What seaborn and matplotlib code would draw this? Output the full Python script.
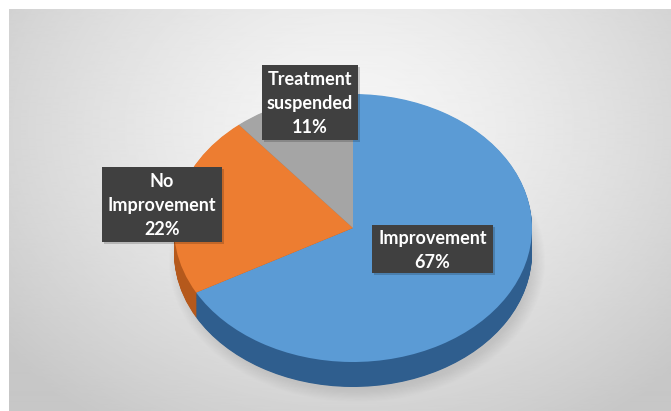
import numpy as np
import matplotlib
matplotlib.use("Agg")
import matplotlib.pyplot as plt
from matplotlib.patches import Rectangle, Ellipse
import seaborn as sns

# Outcome shares
categories = ["Improvement", "No\nImprovement", "Treatment\nsuspended"]
shares = [67, 22, 11]
top_colors = ["#5B9BD5", "#ED7D31", "#A5A5A5"]
side_colors = ["#2F5E8E", "#B5591C", "#7A7A7A"]

sns.set_theme(style="white")
plt.rcParams["font.family"] = ["Lato", "DejaVu Sans"]

W, H = 671, 411
fig = plt.figure(figsize=(W / 100, H / 100), dpi=100)
fig.patch.set_facecolor("white")

# Soft radial gradient backdrop
bg = fig.add_axes([9 / W, 0, (W - 9) / W, (H - 9) / H])
yy, xx = np.mgrid[0:402, 0:662]
r = np.hypot((xx - 340) / 420.0, (yy - 120) / 330.0)
shade = np.clip(0.965 - 0.17 * r ** 1.4, 0.78, 0.97)
bg.imshow(shade, cmap="gray", vmin=0, vmax=1, aspect="auto", interpolation="bicubic")
bg.set_axis_off()

# Pie geometry (pixels): ellipse centre, semi-axes, extrusion depth
cx, cy, a, b, depth = 353, 228, 179, 134, 25

# Shadow below the disc
ov = fig.add_axes([0, 0, 1, 1])
ov.set_xlim(0, W)
ov.set_ylim(H, 0)
ov.set_axis_off()
for k in range(14):
    ov.add_patch(Ellipse((cx + 4, cy + depth + 8), 2 * a + 18 - k * 2.2, 2 * b + 14 - k * 2.2,
                         fc="#9a9a9a", ec="none", alpha=0.025))

ax = fig.add_axes([(cx - a) / W, (H - (cy + b + depth)) / H, 2 * a / W, (2 * b + depth) / H])
ax.set_axis_off()

# Extruded side: stacked copies of the pie, darker shades
for off in np.linspace(depth / b, 0.005, 40):
    ax.pie(shares, colors=side_colors, startangle=90, counterclock=False,
           center=(0, -off), radius=1, wedgeprops=dict(linewidth=0))
ax.pie(shares, colors=top_colors, startangle=90, counterclock=False,
       center=(0, 0), radius=1, wedgeprops=dict(linewidth=0))
ax.set_aspect("auto")
ax.set_xlim(-1, 1)
ax.set_ylim(-1 - depth / b, 1)

# Dark value callouts (x0, y0, width, height in pixels)
boxes = [(372, 225, 121, 48), (102, 167, 120, 75), (262, 65, 96, 75)]
txt = fig.add_axes([0, 0, 1, 1])
txt.set_xlim(0, W)
txt.set_ylim(H, 0)
txt.set_axis_off()
for name, val, (x0, y0, w, h) in zip(categories, shares, boxes):
    txt.add_patch(Rectangle((x0 + 2, y0 + 2), w, h, fc="#000000", ec="none", alpha=0.18))
    txt.add_patch(Rectangle((x0, y0), w, h, fc="#404040", ec="none"))
    txt.text(x0 + w / 2, y0 + h / 2 + 1, f"{name}\n{val}%", color="white",
             fontsize=13, fontweight="bold", ha="center", va="center",
             linespacing=1.5)

fig.savefig("out.png", dpi=100, facecolor="white")
